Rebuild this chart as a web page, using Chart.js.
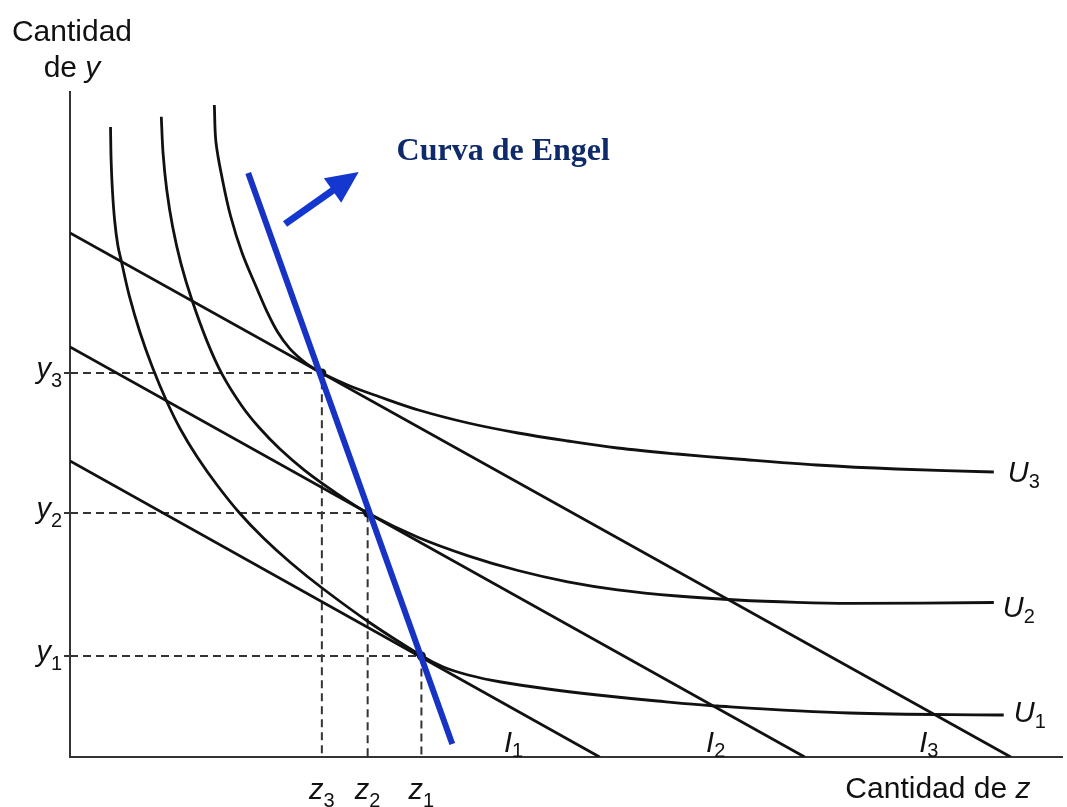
<!DOCTYPE html>
<html><head><meta charset="utf-8">
<script src="https://cdn.jsdelivr.net/npm/chart.js@4/dist/chart.umd.min.js"></script>
<style>html,body{margin:0;padding:0;background:#fff}#wrap{position:relative;width:1067px;height:807px}</style>
</head><body><div id="wrap"><canvas id="c"></canvas></div>
<script>
// ---- Data (x = cantidad de z, y = cantidad de y) ----
const zLevels = [35.3, 29.9, 25.3];          // z1, z2, z3
const yLevels = [10.1, 24.4, 38.4];          // y1, y2, y3
const zTickLabels = [['z','1'],['z','2'],['z','3']];
const yTickLabels = [['y','1'],['y','2'],['y','3']];

// budget lines I1, I2, I3
const I1_z = [0, 53.2], I1_y = [29.6, 0];
const I2_z = [0, 73.8], I2_y = [41.0, 0];
const I3_z = [0, 94.5], I3_y = [52.4, 0];

// indifference curves
const U1_z = [4.07, 4.13, 4.26, 4.48, 4.8, 5.17, 5.98, 7.01, 8.26, 9.7, 11.08, 12.78, 14.77, 17.03, 19.43, 22.2, 25.32, 30.01, 35.35, 37.5, 40.0, 43.3, 48.0, 53.0, 59.0, 65.0, 78.3, 93.8];
const U1_y = [63.0, 59.7, 56.7, 53.7, 51.2, 49.53, 46.03, 42.53, 39.03, 35.6, 32.8, 30.0, 27.2, 24.4, 21.9, 19.4, 16.9, 13.5, 10.1, 9.0, 8.2, 7.5, 6.8, 6.2, 5.6, 5.1, 4.4, 4.2];
const U2_z = [9.17, 9.35, 9.72, 10.31, 11.14, 12.25, 13.82, 15.3, 17.3, 19.02, 21.09, 23.57, 26.53, 29.9, 35.0, 40.0, 45.0, 50.0, 55.0, 61.0, 67.0, 73.0, 78.3, 92.8];
const U2_y = [64.03, 60.36, 56.7, 53.03, 49.37, 45.7, 41.44, 38.24, 35.05, 32.92, 30.79, 28.66, 26.53, 24.4, 21.95, 20.12, 18.65, 17.52, 16.72, 16.1, 15.7, 15.46, 15.36, 15.45];
const U3_z = [14.5, 14.66, 15.3, 16.13, 17.29, 18.84, 19.75, 20.84, 22.06, 23.4, 24.33, 25.33, 28.0, 31.0, 35.0, 40.0, 45.0, 50.0, 55.0, 61.0, 67.0, 75.0, 83.0, 92.8];
const U3_y = [65.2, 61.5, 57.8, 54.1, 50.4, 46.7, 44.62, 42.53, 40.87, 39.62, 38.95, 38.37, 37.15, 36.05, 34.7, 33.4, 32.4, 31.6, 30.9, 30.3, 29.8, 29.2, 28.8, 28.5];

// Engel curve and arrow
const engel_z = [17.9, 38.4], engel_y = [58.4, 1.3];
const arrow_z = [21.6, 29.0], arrow_y = [53.3, 58.5];

// text annotations (anchor in data units)
const budgetLabels = [['I','1'],['I','2'],['I','3']];
const budgetLabel_z = [43.6, 63.9, 85.3], budgetLabel_y = [0.5, 0.5, 0.5];
const utilLabels = [['U','1'],['U','2'],['U','3']];
const utilLabel_z = [94.8, 93.7, 94.2], utilLabel_y = [3.5, 14.0, 27.5];
const engelTitle = 'Curva de Engel';
const engelTitle_z = 32.8, engelTitle_y = 59.7;

// ---- helpers ----
const pts = (xs, ys) => xs.map((x, i) => ({x: x, y: ys[i]}));
const BLACK = '#111';
const SANS = '"Liberation Sans", Arial, Helvetica, sans-serif';

const lineDs = (data, color, width, extra) => Object.assign({
  data: data, showLine: true, borderColor: color, borderWidth: width,
  pointRadius: 0, pointHoverRadius: 0, tension: 0, fill: false
}, extra || {});

const datasets = [
  lineDs(pts(engel_z, engel_y), '#1733c4', 6),
  {data: pts(zLevels, yLevels), showLine: false, pointRadius: 4.5, pointBackgroundColor: BLACK, pointBorderWidth: 0},
  lineDs(pts(U3_z, U3_y), BLACK, 2.8, {tension: 0.35}),
  lineDs(pts(U2_z, U2_y), BLACK, 2.8, {tension: 0.35}),
  lineDs(pts(U1_z, U1_y), BLACK, 2.8, {tension: 0.35}),
  lineDs(pts(I3_z, I3_y), BLACK, 2.8),
  lineDs(pts(I2_z, I2_y), BLACK, 2.8),
  lineDs(pts(I1_z, I1_y), BLACK, 2.8)
];
zLevels.forEach((z, i) => {
  datasets.push(lineDs([{x: 0, y: yLevels[i]}, {x: z, y: yLevels[i]}, {x: z, y: 0}], '#333', 2, {borderDash: [8, 5]}));
});

function drawSub(ctx, letter, sub, x, y, opts) {
  const size = opts.size || 29, subSize = opts.subSize || 20, drop = opts.drop || 7;
  ctx.font = 'italic ' + size + 'px ' + SANS;
  const w1 = ctx.measureText(letter).width;
  ctx.font = subSize + 'px ' + SANS;
  const w2 = ctx.measureText(sub).width;
  let x0 = x;
  if (opts.align === 'right') x0 = x - w1 - w2;
  else if (opts.align === 'center') x0 = x - (w1 + w2) / 2;
  ctx.textAlign = 'left';
  ctx.textBaseline = 'alphabetic';
  ctx.fillStyle = opts.color || '#111';
  ctx.font = 'italic ' + size + 'px ' + SANS;
  ctx.fillText(letter, x0, y);
  ctx.font = subSize + 'px ' + SANS;
  ctx.fillText(sub, x0 + w1 + (opts.gap || 0), y + drop);
}

const annotations = {
  id: 'annotations',
  afterDraw(chart) {
    const ctx = chart.ctx, xs = chart.scales.x, ys = chart.scales.y, area = chart.chartArea;
    ctx.save();
    // axis titles
    ctx.fillStyle = '#111';
    ctx.textBaseline = 'alphabetic';
    ctx.font = '30px ' + SANS;
    ctx.textAlign = 'center';
    ctx.fillText('Cantidad', area.left + 2, area.top - 51);
    ctx.font = '30px ' + SANS;
    const wde = ctx.measureText('de ').width;
    ctx.font = 'italic 30px ' + SANS;
    const wy = ctx.measureText('y').width;
    let sx = area.left + 2 - (wde + wy) / 2;
    ctx.textAlign = 'left';
    ctx.font = '30px ' + SANS;
    ctx.fillText('de ', sx, area.top - 15);
    ctx.font = 'italic 30px ' + SANS;
    ctx.fillText('y', sx + wde, area.top - 15);

    ctx.font = '30px ' + SANS;
    const wz1 = ctx.measureText('Cantidad de ').width;
    ctx.font = 'italic 30px ' + SANS;
    const wz2 = ctx.measureText('z').width;
    const rx = area.right - 32;
    ctx.font = '30px ' + SANS;
    ctx.fillText('Cantidad de ', rx - wz1 - wz2, area.bottom + 41);
    ctx.font = 'italic 30px ' + SANS;
    ctx.fillText('z', rx - wz2, area.bottom + 41);

    // tick labels
    yLevels.forEach((v, i) => {
      drawSub(ctx, yTickLabels[i][0], yTickLabels[i][1], area.left - 8, ys.getPixelForValue(v) + 5, {align: 'right', drop: 9});
    });
    zLevels.forEach((v, i) => {
      drawSub(ctx, zTickLabels[i][0], zTickLabels[i][1], xs.getPixelForValue(v), area.bottom + 42, {align: 'center', drop: 8});
    });
    // budget & utility labels
    budgetLabels.forEach((l, i) => {
      drawSub(ctx, l[0], l[1], xs.getPixelForValue(budgetLabel_z[i]), ys.getPixelForValue(budgetLabel_y[i]), {drop: 5});
    });
    utilLabels.forEach((l, i) => {
      drawSub(ctx, l[0], l[1], xs.getPixelForValue(utilLabel_z[i]), ys.getPixelForValue(utilLabel_y[i]), {drop: 6});
    });

    // arrow
    const x0 = xs.getPixelForValue(arrow_z[0]), y0 = ys.getPixelForValue(arrow_y[0]);
    const x1 = xs.getPixelForValue(arrow_z[1]), y1 = ys.getPixelForValue(arrow_y[1]);
    const ang = Math.atan2(y1 - y0, x1 - x0);
    const headLen = 32, headHalf = 15;
    const bx = x1 - headLen * Math.cos(ang), by = y1 - headLen * Math.sin(ang);
    ctx.strokeStyle = '#1438cf';
    ctx.fillStyle = '#1438cf';
    ctx.lineWidth = 7;
    ctx.lineCap = 'butt';
    ctx.beginPath();
    ctx.moveTo(x0, y0);
    ctx.lineTo(bx + 2 * Math.cos(ang), by + 2 * Math.sin(ang));
    ctx.stroke();
    ctx.beginPath();
    ctx.moveTo(x1, y1);
    ctx.lineTo(bx + headHalf * Math.sin(ang), by - headHalf * Math.cos(ang));
    ctx.lineTo(bx - headHalf * Math.sin(ang), by + headHalf * Math.cos(ang));
    ctx.closePath();
    ctx.fill();

    // Engel title
    ctx.fillStyle = '#0f2a6b';
    ctx.font = 'bold 32px "Liberation Serif", "Times New Roman", serif';
    ctx.textAlign = 'left';
    ctx.fillText(engelTitle, xs.getPixelForValue(engelTitle_z), ys.getPixelForValue(engelTitle_y));
    ctx.restore();
  }
};

new Chart(document.getElementById('c'), {
  type: 'scatter',
  data: {datasets: datasets},
  options: {
    responsive: true, maintainAspectRatio: false, animation: false,
    layout: {padding: {top: 92, left: 0, right: 0, bottom: 0}},
    plugins: {legend: {display: false}, tooltip: {enabled: false}},
    events: [],
    scales: {
      x: {
        type: 'linear', min: 0, max: 99.7,
        ticks: {display: false},
        grid: {display: false, drawTicks: false},
        border: {display: true, color: '#333', width: 2},
        afterFit: s => { s.height = 50; }
      },
      y: {
        type: 'linear', min: 0, max: 66.5,
        ticks: {display: false},
        grid: {display: true, drawOnChartArea: false, drawTicks: true, tickLength: 6, color: '#333', lineWidth: 2},
        border: {display: true, color: '#333', width: 2},
        afterBuildTicks: s => { s.ticks = yLevels.map(v => ({value: v})); },
        afterFit: s => { s.width = 70; }
      }
    }
  },
  plugins: [annotations]
});
</script></body></html>
